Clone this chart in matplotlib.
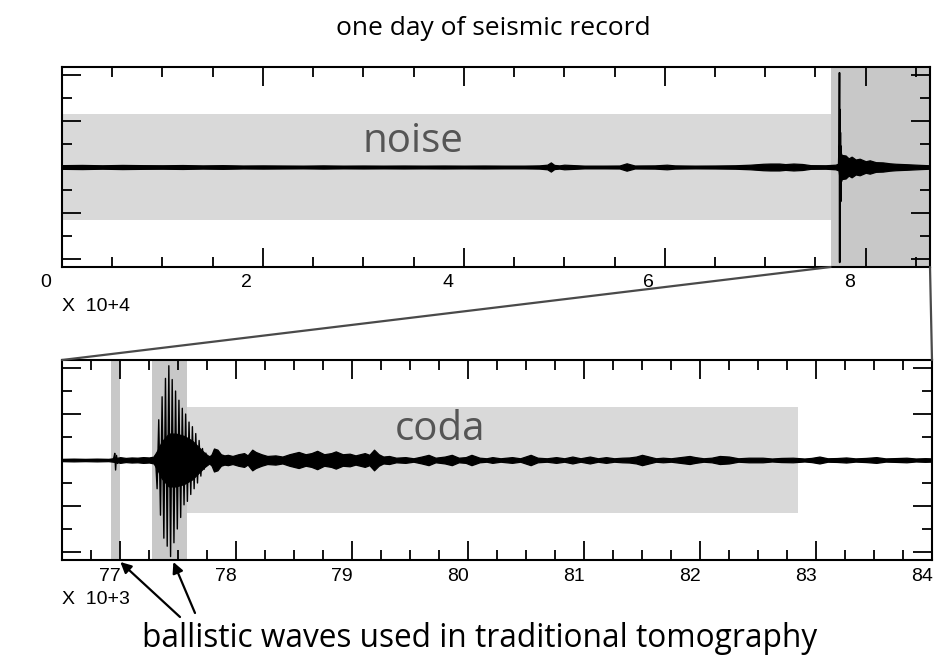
import matplotlib
matplotlib.use("Agg")
import matplotlib.pyplot as plt
from matplotlib.patches import ConnectionPatch, Rectangle
from matplotlib.transforms import blended_transform_factory, ScaledTranslation

# ---------------- data ----------------
# top panel: one day of record (seconds), envelope half-amplitude (arbitrary units)
top_env_t = [0, 2000, 4000, 6000, 8000, 10000, 12000, 14000, 16000, 18000, 20000,
             22000, 24000, 26000, 28000, 30000, 32000, 34000, 36000, 38000, 40000,
             42000, 44000, 46000, 47500, 48300, 48660, 49000, 49500, 50000, 52000,
             54000, 55500, 56200, 57000, 59000, 60200, 61000, 63000, 65000, 67000,
             68500, 69800, 70500, 71400, 72000, 72800, 73700, 74500, 76000, 77000,
             77300, 77450, 77600, 78000, 78300, 78600, 79000, 79400, 80000, 80400,
             81000, 81700, 82400, 83000, 84100, 85500, 86400]
top_env_a = [0.16, 0.18, 0.15, 0.18, 0.16, 0.15, 0.17, 0.14, 0.16, 0.13, 0.14,
             0.13, 0.12, 0.14, 0.12, 0.13, 0.12, 0.13, 0.12, 0.13, 0.12,
             0.13, 0.12, 0.12, 0.14, 0.20, 0.40, 0.18, 0.14, 0.20, 0.12,
             0.12, 0.13, 0.32, 0.13, 0.14, 0.20, 0.14, 0.12, 0.13, 0.15,
             0.20, 0.28, 0.30, 0.30, 0.25, 0.30, 0.26, 0.16, 0.15, 0.20,
             0.30, 1.40, 1.05, 1.00, 0.75, 0.90, 0.65, 0.72, 0.50, 0.58,
             0.42, 0.40, 0.32, 0.28, 0.24, 0.18, 0.15]
top_peak_t = [77300, 77360, 77390, 77410, 77430, 77450, 77480, 77510, 77550, 77600]
top_peak_y = [0.0, 2.0, 8.2, -8.3, 5.0, -5.2, 3.0, -3.0, 1.8, -1.2]

# bottom panel: zoom on the earthquake (seconds)
bot_env_t = [76500, 76600, 76700, 76800, 76900, 76940, 76990, 77000, 77050, 77100,
             77150, 77200, 77250, 77290, 77320, 77360, 77420, 77480, 77550, 77620,
             77680, 77730, 77770, 77790, 77810, 77840, 77870, 77900, 77930, 77970,
             78020, 78070, 78100, 78140, 78170, 78220, 78270, 78340, 78400, 78460,
             78540, 78600, 78650, 78700, 78760, 78820, 78860, 78920, 78980, 79030,
             79110, 79150, 79190, 79230, 79270, 79320, 79380, 79460, 79530, 79600,
             79660, 79720, 79800, 79860, 79920, 79980, 80030, 80100, 80160, 80210,
             80280, 80330, 80380, 80450, 80540, 80600, 80680, 80760, 80830, 80900,
             80970, 81050, 81120, 81190, 81260, 81330, 81390, 81450, 81500, 81560,
             81620, 81680, 81750, 81830, 81910, 81960, 82030, 82100, 82170, 82250,
             82330, 82420, 82540, 82620, 82700, 82800, 82900, 82960, 83030, 83100,
             83180, 83260, 83340, 83430, 83520, 83600, 83700, 83780, 83860, 83940,
             84000]
bot_env_a = [0.10, 0.12, 0.10, 0.12, 0.10, 0.15, 0.22, 0.25, 0.18, 0.22,
             0.20, 0.25, 0.22, 0.30, 0.80, 1.60, 2.30, 2.30, 2.10, 1.70,
             1.10, 0.60, 0.30, 0.50, 1.00, 0.90, 0.50, 0.40, 0.45, 0.35,
             0.50, 0.60, 0.40, 0.90, 0.70, 0.50, 0.35, 0.40, 0.30, 0.50,
             0.70, 0.50, 0.60, 0.80, 0.50, 0.60, 0.75, 0.50, 0.55, 0.40,
             0.60, 0.45, 0.90, 0.50, 0.30, 0.35, 0.20, 0.25, 0.15, 0.30,
             0.45, 0.20, 0.30, 0.45, 0.20, 0.25, 0.45, 0.20, 0.15, 0.25,
             0.15, 0.20, 0.25, 0.15, 0.45, 0.20, 0.15, 0.25, 0.15, 0.30,
             0.15, 0.30, 0.15, 0.25, 0.15, 0.20, 0.22, 0.30, 0.45, 0.30,
             0.15, 0.20, 0.15, 0.25, 0.35, 0.25, 0.15, 0.20, 0.35, 0.30,
             0.15, 0.20, 0.20, 0.13, 0.18, 0.20, 0.13, 0.18, 0.30, 0.15,
             0.17, 0.22, 0.14, 0.18, 0.25, 0.14, 0.17, 0.20, 0.13, 0.16,
             0.14]
bot_peak_t = [76940, 76948, 76955, 76962, 76970, 76978, 76988,
              77290, 77305, 77320, 77334, 77349, 77363, 77378, 77392, 77407, 77421,
              77436, 77450, 77465, 77479, 77494, 77508, 77523, 77537, 77552, 77566,
              77581, 77595, 77610, 77624, 77639, 77653, 77668, 77682, 77697, 77711,
              77726, 77740, 77755, 77770]
bot_peak_y = [0.0, 0.25, 0.58, -0.87, 0.40, -0.30, 0.0,
              0.0, 0.4, -2.5, 3.5, -4.8, 5.5, -6.8, 7.1, -7.5, 8.2,
              -8.4, 7.0, -7.2, 6.0, -6.0, 5.2, -5.0, 4.5, -3.9, 4.0,
              -3.6, 3.3, -3.0, 2.9, -2.5, 2.3, -2.0, 1.7, -1.4, 1.0,
              -0.8, 0.6, -0.4, 0.3]

# shaded windows
top_noise_win = (0, 76500)
top_event_win = (76500, 86400)
bot_p_win = (76925, 77003)
bot_s_win = (77276, 77581)
bot_coda_win = (77581, 82848)
band_half = 4.65
ylim = 8.7

top_xlim = (0, 86400)
bot_xlim = (76500, 84000)
top_major = [0, 20000, 40000, 60000, 80000]
top_major_labels = ["0", "2", "4", "6", "8"]
top_minor = [5000 * i for i in range(1, 18)]
bot_major = [77000, 78000, 79000, 80000, 81000, 82000, 83000, 84000]
bot_major_labels = ["77", "78", "79", "80", "81", "82", "83", "84"]
bot_minor = [76750 + 250 * i for i in range(0, 30)]
y_major = [-8, -4, 0, 4, 8]
y_minor = [-6, -2, 2, 6]

DARK = "#c8c8c8"
LIGHT = "#d9d9d9"
TXT = "#555555"
TICKFONT = ["Liberation Sans", "DejaVu Sans"]
ANNFONT = ["Open Sans", "DejaVu Sans"]

W, H = 937, 658
fig = plt.figure(figsize=(W / 100, H / 100), dpi=100)

def px_axes(l, t, r, b):
    return fig.add_axes([l / W, 1 - b / H, (r - l) / W, (b - t) / H])

ax1 = px_axes(62, 67, 930, 267)
ax2 = px_axes(62, 360, 932, 560)

def style(ax, xlim, major, minor, labels, dx_px, dy_px):
    ax.set_xlim(*xlim)
    ax.set_ylim(-ylim, ylim)
    ax.set_xticks(major)
    ax.set_xticks([m for m in minor if m not in major and xlim[0] < m < xlim[1]], minor=True)
    ax.set_yticks(y_major)
    ax.set_yticks(y_minor, minor=True)
    ax.tick_params(which="both", direction="in", top=True, right=True,
                   labelbottom=False, labelleft=False, width=1.3, color="black")
    ax.tick_params(which="major", length=14)
    ax.tick_params(which="minor", length=7)
    for s in ax.spines.values():
        s.set_linewidth(1.5)
    tr = blended_transform_factory(ax.transData, ax.transAxes) + \
        ScaledTranslation(dx_px / 100, dy_px / 100, fig.dpi_scale_trans)
    for x, lab in zip(major, labels):
        ax.text(x, 0, lab, transform=tr, ha="center", va="baseline",
                fontsize=14, family=TICKFONT, color="black")

style(ax1, top_xlim, top_major, top_minor, top_major_labels, -16, -20)
style(ax2, bot_xlim, bot_major, bot_minor, bot_major_labels, -10, -21)

# top panel drawing
ax1.add_patch(Rectangle((top_noise_win[0], -band_half), top_noise_win[1] - top_noise_win[0],
                        2 * band_half, color=LIGHT, lw=0, zorder=0))
ax1.axvspan(*top_event_win, color=DARK, lw=0, zorder=0)
neg = [-a for a in top_env_a]
ax1.fill_between(top_env_t, neg, top_env_a, color="black", lw=0.9, zorder=2)
ax1.plot(top_env_t, [0] * len(top_env_t), color="black", lw=1.8, zorder=2)
ax1.plot(top_peak_t, top_peak_y, color="black", lw=1.2, zorder=3)

# bottom panel drawing
ax2.axvspan(*bot_p_win, color=DARK, lw=0, zorder=0)
ax2.axvspan(*bot_s_win, color=DARK, lw=0, zorder=0)
ax2.add_patch(Rectangle((bot_coda_win[0], -band_half), bot_coda_win[1] - bot_coda_win[0],
                        2 * band_half, color=LIGHT, lw=0, zorder=0))
negb = [-a for a in bot_env_a]
ax2.fill_between(bot_env_t, negb, bot_env_a, color="black", lw=0.9, zorder=2)
ax2.plot(bot_env_t, [0] * len(bot_env_t), color="black", lw=1.4, zorder=2)
ax2.plot(bot_peak_t, bot_peak_y, color="black", lw=1.0, zorder=3)

# zoom connectors
for xa, xb in [(top_event_win[0], bot_xlim[0]), (top_event_win[1], bot_xlim[1])]:
    con = ConnectionPatch(xyA=(xa, -ylim), coordsA=ax1.transData,
                          xyB=(xb, ylim), coordsB=ax2.transData,
                          color="#4a4a4a", lw=1.6)
    fig.add_artist(con)

# texts
def ftext(x, y, s, **kw):
    fig.text(x / W, 1 - y / H, s, **kw)

ftext(493, 35, "one day of seismic record", ha="center", va="baseline",
      fontsize=19, family=ANNFONT, color="black")
ftext(413, 152, "noise", ha="center", va="baseline", fontsize=29,
      family=ANNFONT, color=TXT)
ftext(440, 440, "coda", ha="center", va="baseline", fontsize=29,
      family=ANNFONT, color=TXT)
ftext(142, 647, "ballistic waves used in traditional tomography", ha="left",
      va="baseline", fontsize=22.8, family=ANNFONT, color="black")
ftext(62, 311, "X  10+4", ha="left", va="baseline", fontsize=14, family=TICKFONT)
ftext(62, 604, "X  10+3", ha="left", va="baseline", fontsize=14, family=TICKFONT)

# arrows toward the ballistic windows
arrow_targets = [bot_p_win[1], 77460]
arrow_tails_px = [(180, 617), (195, 613)]
xtr = blended_transform_factory(ax2.transData, ax2.transAxes)
for xt, (tx, ty) in zip(arrow_targets, arrow_tails_px):
    ax2.annotate("", xy=(xt, -0.01), xycoords=xtr,
                 xytext=(tx, H - ty), textcoords="figure pixels",
                 arrowprops=dict(arrowstyle="-|>", color="black", lw=1.6,
                                 mutation_scale=16, shrinkA=0, shrinkB=0),
                 annotation_clip=False)

fig.savefig("out.png", dpi=100)
